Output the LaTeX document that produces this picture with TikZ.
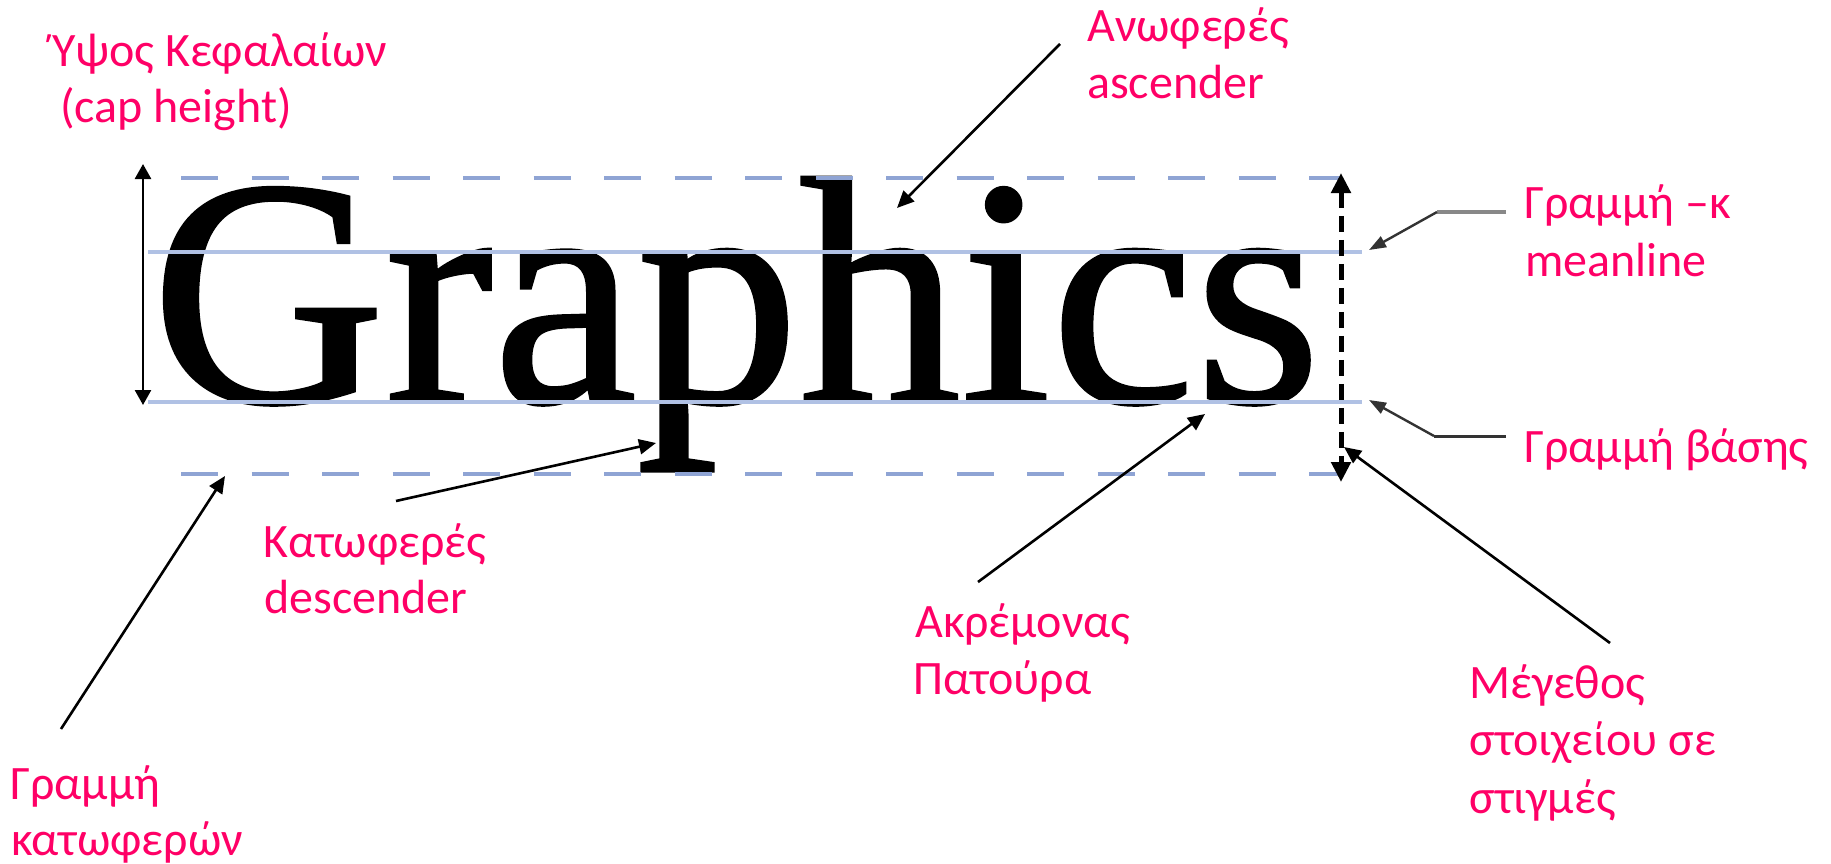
\documentclass[tikz,border=0pt]{standalone}
\usepackage{fontspec}
\setmainfont{Carlito}
\newfontfamily\timesfont[FakeBold=1]{Liberation Serif}
\usetikzlibrary{arrows.meta}
\definecolor{lblpink}{RGB}{255,0,102}
\definecolor{guideD}{RGB}{143,164,212}
\definecolor{guideS}{RGB}{176,193,228}
\definecolor{leadgray}{RGB}{136,136,136}
\definecolor{leaddark}{RGB}{51,51,51}
\begin{document}
\begin{tikzpicture}[x=1pt,y=-1pt,
  lbl/.style={anchor=base west, inner sep=0pt, text=lblpink, font=\fontsize{48}{58}\selectfont},
  ptr/.style={line width=2.6pt, -{Triangle[length=17pt,width=15pt]}},
  guidedash/.style={line width=4.5pt, guideD, dash pattern=on 37pt off 33.5pt},
  guidesolid/.style={line width=4.5pt, guideS},
  bigword/.style={anchor=base west, inner sep=0pt, font=\timesfont\fontsize{324}{324}\selectfont},
]
\useasboundingbox (0,0) rectangle (1831,864);

% the word
\node[bigword] (word) at (151,402) {Graphics};

% guide lines
\coordinate (ascL) at (181,178);  \coordinate (ascR) at (1340,178);
\coordinate (meanL) at (148,252); \coordinate (meanR) at (1362,252);
\coordinate (baseL) at (148,402); \coordinate (baseR) at (1362,402);
\coordinate (descL) at (181,474); \coordinate (descR) at (1340,474);
\draw[guidedash] (ascL) -- (ascR);
\draw[guidesolid] (meanL) -- (meanR);
\draw[guidesolid] (baseL) -- (baseR);
\draw[guidedash] (descL) -- (descR);

% cap height arrow
\coordinate (capTop) at (143,164); \coordinate (capBot) at (143,405);
\draw[line width=2.6pt, {Triangle[length=15pt,width=16pt]}-{Triangle[length=15pt,width=16pt]}] (capTop) -- (capBot);

% point size arrow (dashed)
\coordinate (sizeTop) at (1341,173); \coordinate (sizeBot) at (1341,482);
\draw[line width=5pt, dash pattern=on 16pt off 8pt, {Triangle[length=20pt,width=19pt]}-{Triangle[length=20pt,width=19pt]}] (sizeTop) -- (sizeBot);

% labels
\node[lbl] (capA) at (52,67) {Ύψος Κεφαλαίων};
\node[lbl] (capB) at (60,123) {(cap height)};
\node[lbl] (ascA) at (1087,42) {Ανωφερές};
\node[lbl] (ascB) at (1087,99) {ascender};
\node[lbl] (meanA) at (1524,218) {Γραμμή –κ};
\node[lbl] (meanB) at (1525,276) {meanline};
\node[lbl] (baseA) at (1524,462) {Γραμμή βάσης};
\node[lbl] (descA) at (263,557) {Κατωφερές};
\node[lbl] (descB) at (264,613) {descender};
\node[lbl] (dlA) at (10,799) {Γραμμή};
\node[lbl] (dlB) at (11,855) {κατωφερών};
\node[lbl] (serA) at (915,637) {Ακρέμονας};
\node[lbl] (serB) at (913,694) {Πατούρα};
\node[lbl] (sizeA) at (1469,698) {Μέγεθος};
\node[lbl] (sizeB) at (1469,755) {στοιχείου σε};
\node[lbl] (sizeC) at (1469,813) {στιγμές};

% pointer arrows
\coordinate (ascS) at (1060,44);  \coordinate (ascT) at (897,208);
\coordinate (desS) at (396,501);  \coordinate (desT) at (656,443);
\coordinate (dlS) at (61,729);    \coordinate (dlT) at (225,476);
\coordinate (serS) at (978,582);  \coordinate (serT) at (1205,414);
\coordinate (szS) at (1610,643);  \coordinate (szT) at (1344,447);
\draw[ptr] (ascS) -- (ascT);
\draw[ptr] (desS) -- (desT);
\draw[ptr] (dlS) -- (dlT);
\draw[ptr] (serS) -- (serT);
\draw[ptr] (szS) -- (szT);

% leaders to meanline and baseline
\coordinate (mlS) at (1506,212); \coordinate (mlK) at (1437,212); \coordinate (mlT) at (1369,250);
\draw[leadgray, line width=4pt] (mlS) -- (mlK);
\draw[leaddark, line width=2.4pt, -{Triangle[length=17pt,width=12pt]}] (mlK) -- (mlT);
\coordinate (blS) at (1506,436); \coordinate (blK) at (1434,436); \coordinate (blT) at (1369,400);
\draw[leaddark, line width=3pt] (blS) -- (blK);
\draw[leaddark, line width=2.4pt, -{Triangle[length=17pt,width=12pt]}] (blK) -- (blT);
\end{tikzpicture}
\end{document}
